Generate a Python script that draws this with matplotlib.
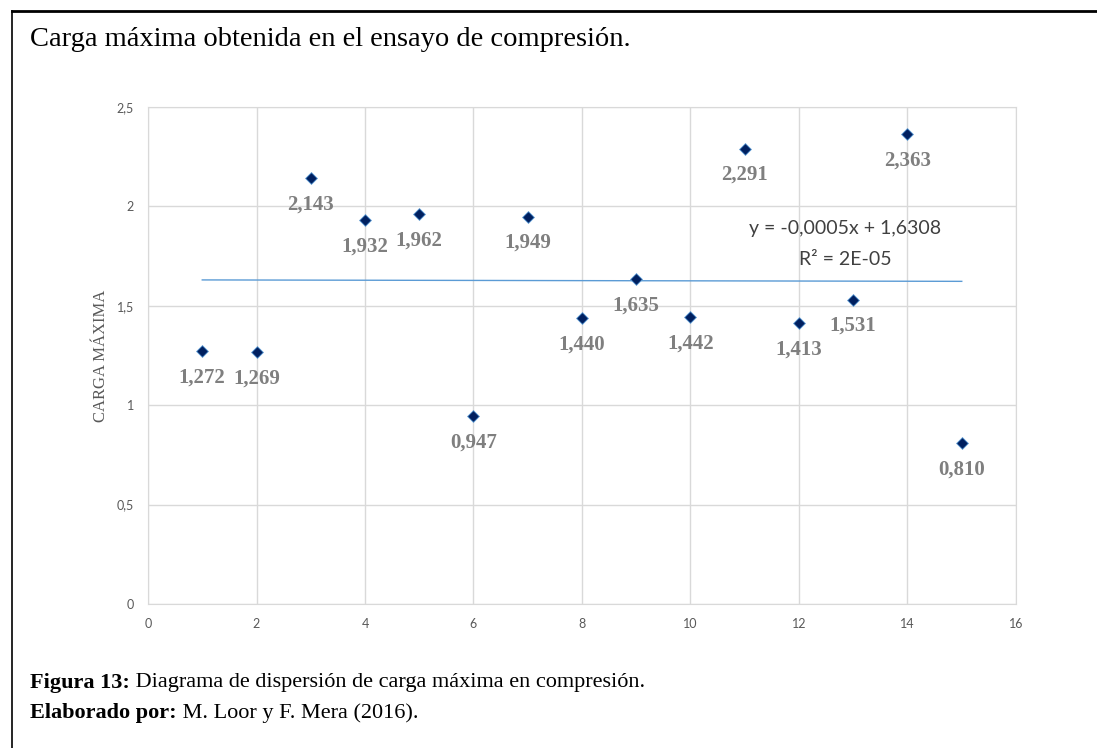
import matplotlib.pyplot as plt
import numpy as np
from matplotlib.lines import Line2D

# datos del ensayo
muestra = [1, 2, 3, 4, 5, 6, 7, 8, 9, 10, 11, 12, 13, 14, 15]
carga = [1.272, 1.269, 2.143, 1.932, 1.962, 0.947, 1.949, 1.440, 1.635,
         1.442, 2.291, 1.413, 1.531, 2.363, 0.810]
etiquetas = ['1,272', '1,269', '2,143', '1,932', '1,962', '0,947', '1,949', '1,440',
             '1,635', '1,442', '2,291', '1,413', '1,531', '2,363', '0,810']
xticks = [0, 2, 4, 6, 8, 10, 12, 14, 16]
yticks = [0, 0.5, 1, 1.5, 2, 2.5]
ytick_labels = ['0', '0,5', '1', '1,5', '2', '2,5']

SERIF = 'Liberation Serif'
SANS = 'Lato'

fig = plt.figure(figsize=(10.97, 7.48), dpi=100)

# marco del documento
fig.add_artist(Line2D([12/1097, 1.0], [1 - 11/748, 1 - 11/748], color='black', lw=2))
fig.add_artist(Line2D([12/1097, 12/1097], [0, 1 - 11/748], color='black', lw=1.2))

fig.text(30/1097, 1 - 39/748, 'Carga máxima obtenida en el ensayo de compresión.',
         family=SERIF, fontsize=20.5, va='center', ha='left')

ax = fig.add_axes([148/1097, 1 - 604/748, 868/1097, 497/748])
ax.scatter(muestra, carga, marker='D', s=36, color='#002060', edgecolors='#5b9bd5',
           linewidths=0.6, zorder=3)

# linea de tendencia
m, b = np.polyfit(muestra, carga, 1)
xt = np.array([muestra[0], muestra[-1]])
ax.plot(xt, m * xt + b, color='#5b9bd5', lw=1, zorder=2)

for x, y, t in zip(muestra, carga, etiquetas):
    ax.annotate(t, (x, y), xytext=(0, -19), textcoords='offset points', ha='center',
                va='center', family=SERIF, fontweight='bold', fontsize=15, color='#7f7f7f')

ax.text(12.85, 1.89, 'y = -0,0005x + 1,6308', family=SANS, fontsize=14, color='#404040',
        ha='center', va='center')
ax.text(12.85, 1.735, 'R² = 2E-05', family=SANS, fontsize=14, color='#404040',
        ha='center', va='center')

ax.set_xlim(0, 16)
ax.set_ylim(0, 2.5)
ax.set_xticks(xticks)
ax.set_yticks(yticks)
ax.set_yticklabels(ytick_labels)
ax.grid(True, color='#d9d9d9', lw=1)
ax.set_axisbelow(True)
for s in ax.spines.values():
    s.set_color('#d9d9d9')
ax.tick_params(length=0, labelsize=9, labelcolor='#595959', pad=10)
for lab in ax.get_xticklabels() + ax.get_yticklabels():
    lab.set_family(SANS)
ax.set_ylabel('CARGA MÁXIMA', family=SERIF, fontsize=12, color='#595959', labelpad=6)

# pie de figura
t1 = fig.text(30/1097, 1 - 683/748, 'Figura 13:', family=SERIF, fontsize=16,
              fontweight='bold', va='center')
t2 = fig.text(30/1097, 1 - 713/748, 'Elaborado por:', family=SERIF, fontsize=16,
              fontweight='bold', va='center')

fig.canvas.draw()
r = fig.canvas.get_renderer()
for t, rest in [(t1, ' Diagrama de dispersión de carga máxima en compresión.'),
                (t2, ' M. Loor y F. Mera (2016).')]:
    bb = t.get_window_extent(r)
    fig.text(bb.x1 / fig.bbox.width, t.get_position()[1], rest, family=SERIF,
             fontsize=16, va='center')

fig.savefig('out.png', dpi=100)
